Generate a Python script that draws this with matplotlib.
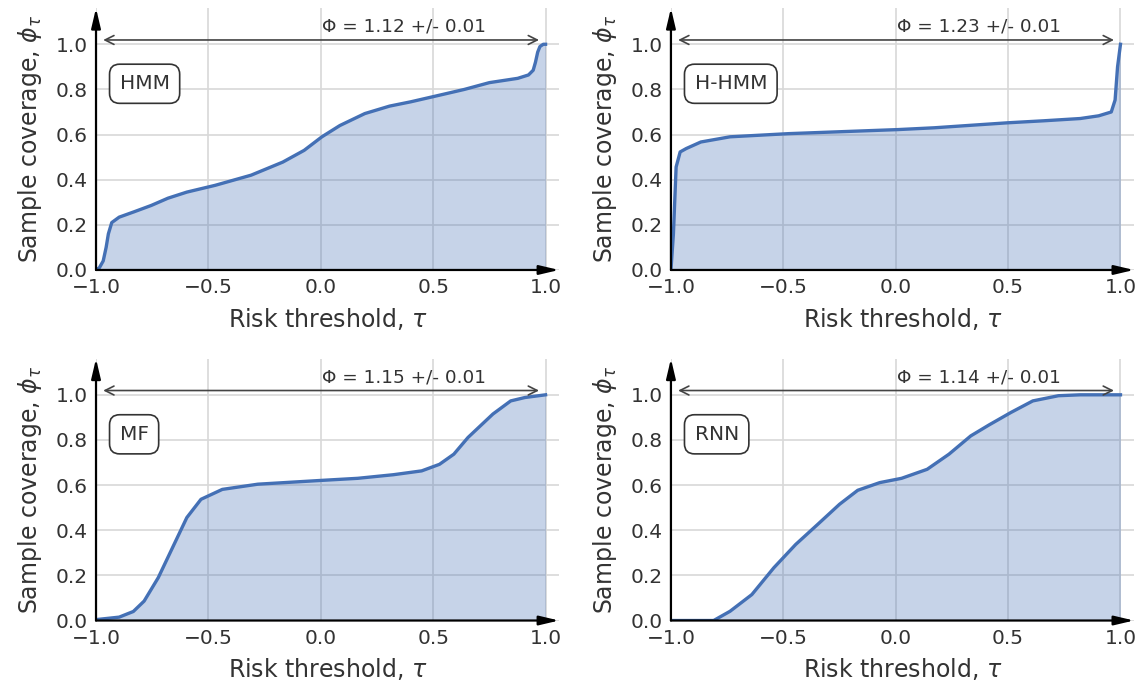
import matplotlib.pyplot as plt

#---------------------------------------------------------------------
# Digitised curves: risk threshold tau -> sample coverage phi_tau
#---------------------------------------------------------------------
hmm_tau = [-1.0, -0.985, -0.968, -0.955, -0.945, -0.93, -0.897, -0.83, -0.754, -0.68,
           -0.596, -0.47, -0.31, -0.169, -0.074, 0.005, 0.085, 0.196, 0.306, 0.40,
           0.496, 0.639, 0.75, 0.876, 0.924, 0.945, 0.955, 0.965, 0.975, 0.99, 1.0]
hmm_cov = [0.0, 0.01, 0.04, 0.10, 0.16, 0.21, 0.234, 0.258, 0.286, 0.318,
           0.345, 0.375, 0.42, 0.478, 0.53, 0.59, 0.64, 0.693, 0.726, 0.745,
           0.767, 0.80, 0.83, 0.849, 0.864, 0.885, 0.92, 0.965, 0.99, 1.0, 1.0]

hhmm_tau = [-1.0, -0.989, -0.977, -0.959, -0.932, -0.867, -0.737, -0.477, -0.153, 0.01,
            0.172, 0.334, 0.497, 0.659, 0.821, 0.903, 0.959, 0.976, 0.987, 1.0]
hhmm_cov = [0.0, 0.16, 0.456, 0.523, 0.538, 0.567, 0.59, 0.604, 0.616, 0.622,
            0.63, 0.641, 0.652, 0.661, 0.671, 0.683, 0.70, 0.753, 0.90, 1.0]

mf_tau = [-1.0, -0.897, -0.834, -0.786, -0.723, -0.66, -0.596, -0.533, -0.438, -0.28,
          0.006, 0.164, 0.323, 0.449, 0.528, 0.592, 0.655, 0.766, 0.845, 0.908, 1.0]
mf_cov = [0.004, 0.015, 0.04, 0.086, 0.19, 0.322, 0.456, 0.537, 0.581, 0.604,
          0.621, 0.63, 0.646, 0.663, 0.692, 0.737, 0.811, 0.915, 0.973, 0.988, 1.0]

rnn_tau = [-1.0, -0.81, -0.737, -0.64, -0.542, -0.445, -0.347, -0.25, -0.169, -0.071,
           0.026, 0.14, 0.237, 0.334, 0.416, 0.513, 0.61, 0.724, 0.821, 1.0]
rnn_cov = [0.0, 0.0, 0.041, 0.115, 0.234, 0.337, 0.426, 0.515, 0.577, 0.611,
           0.63, 0.67, 0.737, 0.818, 0.867, 0.922, 0.973, 0.996, 1.0, 1.0]

model_names = ['HMM', 'H-HMM', 'MF', 'RNN']
phi_texts = ['Φ = 1.12 +/- 0.01', 'Φ = 1.23 +/- 0.01',
             'Φ = 1.15 +/- 0.01', 'Φ = 1.14 +/- 0.01']
x_ticks = [-1.0, -0.5, 0.0, 0.5, 1.0]
y_ticks = [0.0, 0.2, 0.4, 0.6, 0.8, 1.0]

curves = [(hmm_tau, hmm_cov), (hhmm_tau, hhmm_cov), (mf_tau, mf_cov), (rnn_tau, rnn_cov)]

line_col = '#4470b5'
txt_col = '#333333'
axis_arrow = '-|>,head_length=0.85,head_width=0.2'

fig = plt.figure(figsize=(11.43, 6.91), dpi=100)
rects = [[0.084, 0.6093, 0.4051, 0.3789], [0.587, 0.6093, 0.4051, 0.3789],
         [0.084, 0.1020, 0.4051, 0.3789], [0.587, 0.1020, 0.4051, 0.3789]]

for i in range(4):
    ax = fig.add_axes(rects[i])
    tau, cov = curves[i]
    ax.set_axisbelow(True)
    ax.grid(True, color='#d8d8d8', lw=1.2)
    ax.fill_between(tau, cov, 0, color=line_col, alpha=0.3, lw=0)
    ax.plot(tau, cov, color=line_col, lw=2.4)
    ax.set_xlim(-1.0, 1.06)
    ax.set_ylim(0.0, 1.16)
    ax.set_xticks(x_ticks)
    ax.set_yticks(y_ticks)
    ax.tick_params(length=0, labelsize=14.5, colors=txt_col, pad=6)
    for s in ax.spines.values():
        s.set_visible(False)

    # axis arrows
    ax.annotate('', xy=(1, 0), xytext=(0, 0), xycoords='axes fraction',
                arrowprops=dict(arrowstyle=axis_arrow, color='k', lw=1.6,
                                shrinkA=0, shrinkB=0, mutation_scale=14),
                annotation_clip=False)
    ax.annotate('', xy=(0, 1), xytext=(0, 0), xycoords='axes fraction',
                arrowprops=dict(arrowstyle=axis_arrow, color='k', lw=1.6,
                                shrinkA=0, shrinkB=0, mutation_scale=14),
                annotation_clip=False)

    # coverage span arrow + Phi text
    ax.annotate('', xy=(-0.968, 1.019), xytext=(0.971, 1.019),
                arrowprops=dict(arrowstyle='<->', color='#444444', lw=1.2,
                                shrinkA=0, shrinkB=0, mutation_scale=16))
    ax.text(0.372, 1.077, phi_texts[i], ha='center', va='center',
            fontsize=13.2, color=txt_col)

    ax.text(-0.895, 0.825, model_names[i], ha='left', va='center', fontsize=14.5,
            color=txt_col,
            bbox=dict(boxstyle='round,pad=0.5', fc='white', ec='#333333', lw=1.2))

    ax.set_xlabel(r'Risk threshold, $\tau$', fontsize=17, color=txt_col, labelpad=6)
    ax.set_ylabel(r'Sample coverage, $\phi_\tau$', fontsize=17, color=txt_col, labelpad=8)

plt.savefig('out.png', dpi=100)
